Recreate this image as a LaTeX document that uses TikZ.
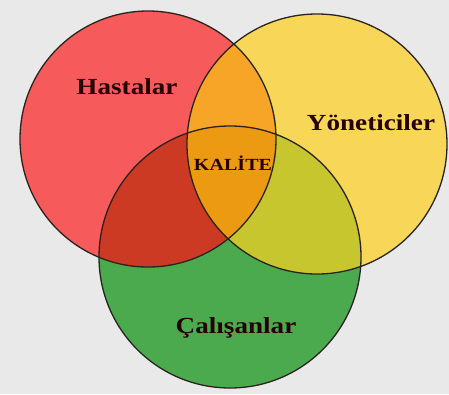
\documentclass[tikz,border=0pt]{standalone}
\usepackage{fontspec}
\setmainfont{Liberation Serif}
\definecolor{bgc}{RGB}{233,233,233}
\definecolor{cR}{RGB}{247,90,90}
\definecolor{cY}{RGB}{248,214,88}
\definecolor{cG}{RGB}{76,170,78}
\definecolor{cRY}{RGB}{246,165,38}
\definecolor{cRG}{RGB}{205,58,36}
\definecolor{cYG}{RGB}{200,198,46}
\definecolor{cRYG}{RGB}{236,154,18}
\definecolor{edge}{RGB}{40,35,30}
\begin{document}
\begin{tikzpicture}[x=1pt,y=-1pt,
  ring/.style={circle,draw=edge,line width=1.3pt,inner sep=0pt,minimum size=#1},
  lbl/.style={font=\bfseries\fontsize{#1}{#1}\selectfont,text=black!85!red,xscale=1.18,inner sep=0pt}]
\fill[bgc] (0,0) rectangle (449,394);
\useasboundingbox (0,0) rectangle (449,394);
\def\cRed{(148,139) circle[radius=128]}
\def\cYel{(317,144) circle[radius=130]}
\def\cGrn{(230,257) circle[radius=131]}
\fill[cR] \cRed;
\fill[cY] \cYel;
\fill[cG] \cGrn;
\begin{scope}
  \clip \cRed;
  \fill[cRY] \cYel;
  \fill[cRG] \cGrn;
  \clip \cYel;
  \fill[cRYG] \cGrn;
\end{scope}
\begin{scope}
  \clip \cYel;
  \clip \cGrn;
  \fill[cYG] (0,0) rectangle (449,394);
  \clip \cRed;
  \fill[cRYG] (0,0) rectangle (449,394);
\end{scope}
\node[ring=256pt] (hastC) at (148,139) {};
\node[ring=260pt] (yonC) at (317,144) {};
\node[ring=262pt] (calC) at (230,257) {};
\node[lbl=23] (hast) at (127,87) {Hastalar};
\node[lbl=23] (yon) at (371,123) {Yöneticiler};
\node[lbl=17] (kal) at (233,163) {KALİTE};
\node[lbl=23] (cal) at (236,328) {Çalışanlar};
\end{tikzpicture}
\end{document}
